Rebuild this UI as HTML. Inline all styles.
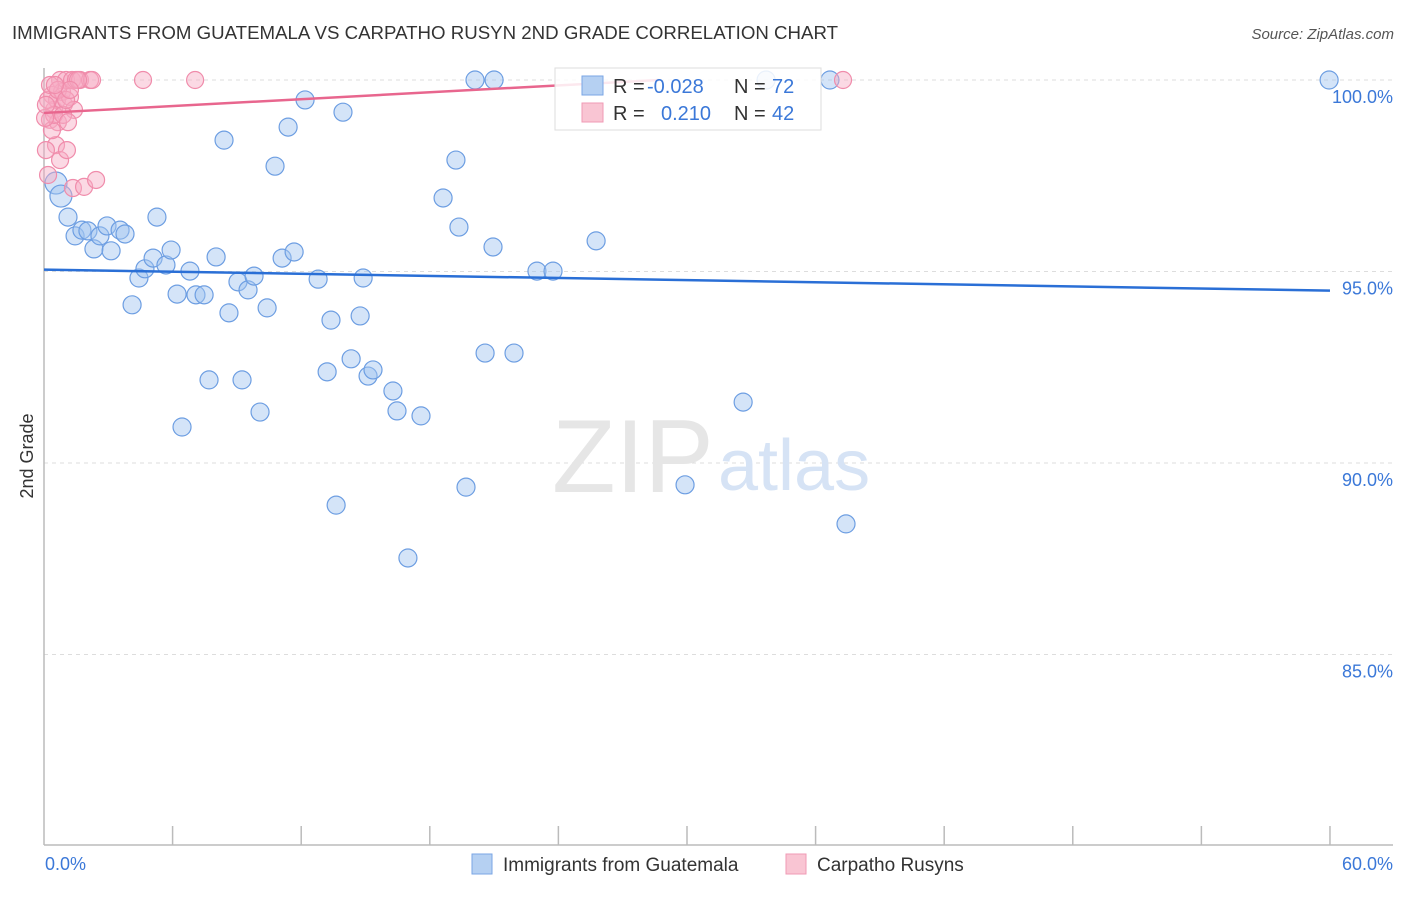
<!DOCTYPE html>
<html><head><meta charset="utf-8"><style>
body{margin:0;background:#fff;font-family:"Liberation Sans",sans-serif}
svg text{font-family:"Liberation Sans",sans-serif}
</style></head><body>
<svg width="1406" height="892">
<text x="12" y="39" font-size="18" fill="#333" textLength="826" lengthAdjust="spacingAndGlyphs">IMMIGRANTS FROM GUATEMALA VS CARPATHO RUSYN 2ND GRADE CORRELATION CHART</text>
<text x="1394" y="39" font-size="15" fill="#555" font-style="italic" text-anchor="end">Source: ZipAtlas.com</text>
<text x="33" y="456" font-size="18" fill="#333" text-anchor="middle" transform="rotate(-90 33 456)">2nd Grade</text>
<g id="grid"></g>
<text x="552" y="492" font-size="104" fill="#e6e6e6" font-family="Liberation Serif">ZIP</text>
<text x="718" y="490" font-size="72" fill="#d6e3f5">atlas</text>
<g id="pts"></g>
<g id="lines"></g>
<g>
<rect x="555" y="68" width="266" height="62" fill="#fff" fill-opacity="0.85" stroke="#ddd"/>
<rect x="582" y="76" width="21" height="19" fill="#b5d0f2" stroke="#7aa6e4"/>
<rect x="582" y="103" width="21" height="19" fill="#f9c5d3" stroke="#f09ab5"/>
<text x="613" y="93" font-size="20" fill="#333">R = <tspan fill="#3b78d8" x="647">-0.028</tspan></text>
<text x="734" y="93" font-size="20" fill="#333">N = <tspan fill="#3b78d8" x="772">72</tspan></text>
<text x="613" y="120" font-size="20" fill="#333">R = <tspan fill="#3b78d8" x="661">0.210</tspan></text>
<text x="734" y="120" font-size="20" fill="#333">N = <tspan fill="#3b78d8" x="772">42</tspan></text>
</g>
<g>
<rect x="472" y="854" width="20" height="20" fill="#b5d0f2" stroke="#7aa6e4"/>
<text x="503" y="871" font-size="19" fill="#333">Immigrants from Guatemala</text>
<rect x="786" y="854" width="20" height="20" fill="#f9c5d3" stroke="#f09ab5"/>
<text x="817" y="871" font-size="19" fill="#333">Carpatho Rusyns</text>
</g>
<text x="45" y="870" font-size="18" fill="#3b78d8">0.0%</text>
<text x="1393" y="870" font-size="18" fill="#3b78d8" text-anchor="end">60.0%</text>
</svg>
<script>
const yTicks=[100,95,90,85];
const yTickLabels=["100.0%","95.0%","90.0%","85.0%"];
const blueX=[0.56,0.79,1.12,1.45,1.77,2.05,2.33,2.61,2.94,3.13,3.55,3.78,4.11,4.43,4.71,5.09,5.27,5.69,5.93,6.21,6.44,6.81,7.09,7.47,7.70,8.03,8.40,8.63,9.05,9.24,9.52,9.80,10.08,10.41,10.78,11.11,11.39,11.67,12.18,12.79,13.21,13.39,13.63,13.95,14.33,14.75,14.89,15.12,15.35,16.28,16.47,16.98,17.59,18.62,19.22,19.36,19.69,20.11,20.58,20.95,21.00,21.93,23.00,23.75,25.76,29.91,32.62,33.69,36.67,37.42,59.96];
const blueY=[97.31,96.97,96.42,95.93,96.08,96.06,95.59,95.93,96.19,95.54,96.08,95.98,94.13,94.83,95.07,95.35,96.42,95.17,95.56,94.41,90.94,95.01,94.39,94.39,92.17,95.38,98.43,93.92,94.73,92.17,94.52,94.88,91.33,94.05,97.75,95.35,98.77,95.51,99.48,94.80,92.38,93.73,88.90,99.16,92.72,93.84,94.83,92.27,92.43,91.88,91.36,87.52,91.23,96.92,97.91,96.16,89.37,100,92.87,95.64,100,92.87,95.01,95.01,95.80,89.43,91.59,100,100,88.41,100];
const pinkX=[0.19,0.28,0.37,0.47,0.56,0.61,0.65,0.75,0.75,0.84,0.93,1.03,1.07,1.21,1.31,1.35,1.40,1.49,1.68,1.87,2.15,2.24,2.43,4.62,7.05,37.28,0.19,0.28,0.37,0.47,0.65,0.89,1.03,1.12,1.59,0.05,0.09,0.09,1.21,0.51];
const pinkY=[97.52,98.96,99.61,99.22,98.30,99.48,98.90,100,97.91,99.69,99.37,100,98.17,99.56,100,97.18,99.22,100,100,97.21,100,100,97.39,100,100,100,99.48,99.87,98.69,99.09,99.74,99.09,99.48,98.90,100,99.01,99.35,98.17,99.74,99.87];
const blueTrend=[95.05,94.50];
const pinkTrend=[99.14,100.0];
const NS="http://www.w3.org/2000/svg";
const X=v=>44+v*21.433, Y=v=>80+(100-v)*38.3;
function mk(t,a,p){const e=document.createElementNS(NS,t);for(const k in a)e.setAttribute(k,a[k]);p.appendChild(e);return e;}
const grid=document.getElementById('grid');
yTicks.forEach((t,i)=>{
 const l=mk('line',{x1:44,x2:1393,y1:Y(t),y2:Y(t),stroke:'#ddd','stroke-dasharray':'4,4'},grid);
 
 
 const tx=mk('text',{x:1393,y:Y(t)+23,'font-size':18,fill:'#3b78d8','text-anchor':'end'},grid);
 tx.textContent=yTickLabels[i];
 
 
});
const ax=mk('line',{x1:44,x2:44,y1:68,y2:845,stroke:'#bbb','stroke-width':1.5},grid);


const bx=mk('line',{x1:44,x2:1393,y1:845,y2:845,stroke:'#bbb','stroke-width':1.5},grid);


for(let i=1;i<=10;i++){const t=mk('line',{x1:X(i*6),x2:X(i*6),y1:826,y2:845,stroke:'#bbb','stroke-width':1.5},grid);
 
 }
const pts=document.getElementById('pts');
blueX.forEach((x,i)=>{const c=mk('circle',{cx:X(x),cy:Y(blueY[i]),r:i<2?11:9,fill:'rgba(160,195,240,0.45)',stroke:'#6d9ee2','stroke-width':1.2},pts);
 
 });
pinkX.forEach((x,i)=>{const c=mk('circle',{cx:X(x),cy:Y(pinkY[i]),r:8.5,fill:'rgba(247,170,195,0.45)',stroke:'#f08cab','stroke-width':1.2},pts);
 
 });
const lines=document.getElementById('lines');
const bl=mk('line',{x1:X(0),x2:X(60),y1:Y(blueTrend[0]),y2:Y(blueTrend[1]),stroke:'#2a6fd6','stroke-width':2.5},lines);


const pl=mk('line',{x1:X(0),x2:X(28.7),y1:Y(pinkTrend[0]),y2:Y(pinkTrend[1]),stroke:'#e8668e','stroke-width':2.5},lines);


</script>
</body></html>
